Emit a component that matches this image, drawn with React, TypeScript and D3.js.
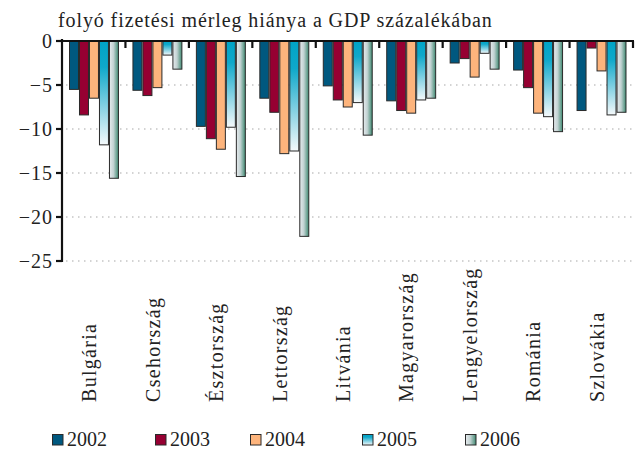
import React from "react";
import * as d3 from "d3";

const categories = ["Bulgária", "Csehország", "Észtország", "Lettország", "Litvánia", "Magyarország", "Lengyelország", "Románia", "Szlovákia"];
const years = ["2002", "2003", "2004", "2005", "2006"];
const s2002 = [-5.5, -5.6, -9.7, -6.5, -5.1, -6.8, -2.5, -3.3, -7.9];
const s2003 = [-8.4, -6.2, -11.1, -8.1, -6.7, -7.9, -2.0, -5.3, -0.8];
const s2004 = [-6.5, -5.3, -12.3, -12.8, -7.5, -8.2, -4.1, -8.2, -3.4];
const s2005 = [-11.8, -1.6, -9.8, -12.5, -7.0, -6.7, -1.4, -8.6, -8.4];
const s2006 = [-15.6, -3.2, -15.4, -22.2, -10.7, -6.5, -3.2, -10.3, -8.1];
const series = [s2002, s2003, s2004, s2005, s2006];
const yTicks = [0, -5, -10, -15, -20, -25];

const fills = ["#00587f", "#960032", "#fdb47c", "url(#g2005)", "url(#g2006)"];
const FONT = "'Liberation Serif', 'Times New Roman', serif";

export default function App() {
  const W = 637, H = 453;
  const x0 = 62, x1 = 633, yTop = 41, yBot = 261;
  const x = d3.scaleBand<string>().domain(categories).range([x0, x1]).padding(0);
  const inner = d3.scaleBand<string>().domain(years).range([7, x.bandwidth() - 6.5]).padding(0);
  const y = d3.scaleLinear().domain([-25, 0]).range([yBot, yTop]);
  const minus = (v: number) => (v < 0 ? "\u2212" + Math.abs(v) : String(v));
  const legendX = [52, 155, 250, 362, 465];

  return (
    <svg width={W} height={H} style={{ position: "absolute", left: 0, top: 0, background: "#fff" }} fontFamily={FONT}>
      <defs>
        <linearGradient id="g2005" x1="0" y1="0" x2="0" y2="1">
          <stop offset="0" stopColor="#00a3c6" />
          <stop offset="0.25" stopColor="#0fa8ca" />
          <stop offset="1" stopColor="#f5f9fb" />
        </linearGradient>
        <linearGradient id="g2006" x1="0" y1="0" x2="1" y2="0">
          <stop offset="0" stopColor="#e6ebee" />
          <stop offset="0.45" stopColor="#c2d2d2" />
          <stop offset="1" stopColor="#3f8a72" />
        </linearGradient>
      </defs>
      <text x={58} y={27} fontSize={20} letterSpacing={0.9} fill="#222">folyó fizetési mérleg hiánya a GDP százalékában</text>
      {yTicks.filter((t) => t !== 0).map((t) => (
        <line key={"g" + t} x1={x0 + 4} x2={x1} y1={y(t)} y2={y(t)} stroke="#a8a8a8" strokeWidth={1.2} strokeDasharray="1.5,4.5" />
      ))}
      {categories.map((c, i) => (
        <g key={c} transform={`translate(${x(c)},0)`}>
          {series.map((s, j) => (
            <rect key={j} x={inner(years[j])! + 0.5} y={y(0)} width={inner.bandwidth() - 1} height={y(s[i]) - y(0)} fill={fills[j]} stroke="#2a2a2a" strokeWidth={1} />
          ))}
        </g>
      ))}
      {/* axes */}
      <line x1={x0} x2={x0} y1={yTop - 2} y2={yBot + 1} stroke="#111" strokeWidth={2.2} />
      <line x1={x0} x2={x1 + 1} y1={yTop} y2={yTop} stroke="#111" strokeWidth={2.2} />
      {yTicks.map((t) => (
        <g key={"t" + t}>
          <line x1={x0 - 6} x2={x0} y1={y(t)} y2={y(t)} stroke="#111" strokeWidth={2.2} />
          <text x={53} y={y(t) + 6.5} fontSize={20} letterSpacing={1} textAnchor="end" fill="#222">{minus(t)}</text>
        </g>
      ))}
      {categories.map((c) => (
        <line key={"xt" + c} x1={x(c)! + x.bandwidth()} x2={x(c)! + x.bandwidth()} y1={yTop} y2={yTop + 7} stroke="#111" strokeWidth={2.2} />
      ))}
      {categories.map((c) => (
        <text key={"l" + c} transform={`translate(${x(c)! + x.bandwidth() / 2 + 2.5},402) rotate(-90)`} fontSize={20} letterSpacing={1.3} fill="#222">{c}</text>
      ))}
      {years.map((yr, j) => (
        <g key={"lg" + yr} transform={`translate(${legendX[j]},434)`}>
          <rect x={0.5} y={0.5} width={10.5} height={10.5} fill={fills[j]} stroke="#2a2a2a" strokeWidth={1} />
          <text x={15} y={12} fontSize={20} fill="#222">{yr}</text>
        </g>
      ))}
    </svg>
  );
}
